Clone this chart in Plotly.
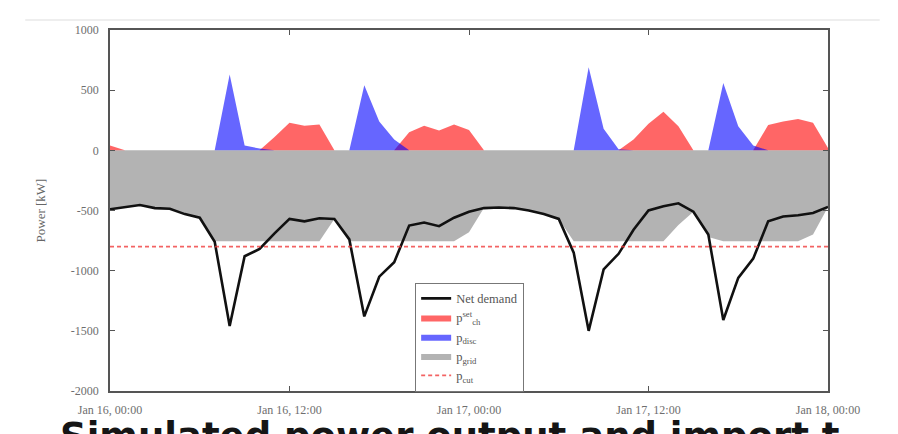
import pandas as pd
import plotly.graph_objects as go

# ---- data (hourly, Jan 16 00:00 -> Jan 18 00:00) ----
start_time = "2017-01-16 00:00"
n_hours = 49

net_demand = [-490, -470, -455, -480, -485, -530, -560, -760, -1460, -880,
              -820, -690, -570, -590, -565, -570, -740, -1380, -1050, -930,
              -625, -600, -630, -560, -510, -480, -475, -480, -500, -530,
              -570, -850, -1500, -990, -860, -660, -500, -465, -440, -510,
              -700, -1410, -1060, -900, -590, -550, -540, -520, -470]

p_grid = [-490, -470, -455, -480, -485, -530, -560, -755, -755, -755,
          -755, -755, -755, -755, -755, -570, -755, -755, -755, -755,
          -755, -755, -755, -755, -680, -480, -475, -480, -500, -530,
          -570, -755, -755, -755, -755, -755, -755, -755, -620, -510,
          -720, -755, -755, -755, -755, -755, -755, -700, -470]

p_ch = [40, 0, 0, 0, 0, 0, 0, 0, 0, 0,
        0, 110, 230, 205, 215, 0, 0, 0, 0, 0,
        150, 205, 165, 215, 170, 0, 0, 0, 0, 0,
        0, 0, 0, 0, 0, 90, 220, 320, 200, 0,
        0, 0, 0, 0, 210, 240, 260, 230, 20]

p_dis = [0, 0, 0, 0, 0, 0, 0, 0, 630, 40,
         15, 0, 0, 0, 0, 0, 0, 540, 240, 90,
         0, 0, 0, 0, 0, 0, 0, 0, 0, 0,
         0, 0, 690, 180, 10, 0, 0, 0, 0, 0,
         0, 560, 200, 40, 0, 0, 0, 0, 0]

p_limit = -800

x_tick_vals = ["2017-01-16 00:00", "2017-01-16 12:00", "2017-01-17 00:00",
               "2017-01-17 12:00", "2017-01-18 00:00"]
x_tick_text = ["Jan 16, 00:00", "Jan 16, 12:00", "Jan 17, 00:00",
               "Jan 17, 12:00", "Jan 18, 00:00"]
y_tick_vals = [1000, 500, 0, -500, -1000, -1500, -2000]
y_tick_text = ["1000", "500", "0", "-500", "-1000", "-1500", "-2000"]

names = ["Net demand", "p<sup>set</sup><sub>ch</sub>", "p<sub>disc</sub>",
         "p<sub>grid</sub>", "p<sub>cut</sub>"]

caption = "Simulated power output and import t"

# ---- figure ----
t = pd.date_range(start_time, periods=n_hours, freq="h")
SERIF = "Liberation Serif, DejaVu Serif, serif"

fig = go.Figure()
fig.add_trace(go.Scatter(x=t, y=p_grid, name=names[3], mode="lines",
                         line=dict(width=0, color="rgba(128,128,128,0.6)"),
                         fill="tozeroy", fillcolor="rgba(128,128,128,0.6)",
                         legendrank=4))
fig.add_trace(go.Scatter(x=t, y=p_ch, name=names[1], mode="lines",
                         line=dict(width=0, color="rgba(255,0,0,0.6)"),
                         fill="tozeroy", fillcolor="rgba(255,0,0,0.6)",
                         legendrank=2))
fig.add_trace(go.Scatter(x=t, y=p_dis, name=names[2], mode="lines",
                         line=dict(width=0, color="rgba(0,0,255,0.6)"),
                         fill="tozeroy", fillcolor="rgba(0,0,255,0.6)",
                         legendrank=3))
fig.add_trace(go.Scatter(x=t, y=net_demand, name=names[0], mode="lines",
                         line=dict(width=2.6, color="#111111"),
                         legendrank=1))
fig.add_trace(go.Scatter(x=[t[0], t[-1]], y=[p_limit, p_limit], name=names[4],
                         mode="lines",
                         line=dict(width=1.6, color="rgba(240,60,60,0.8)",
                                   dash="4px,3px"),
                         legendrank=5))

fig.update_layout(
    width=890, height=426,
    margin=dict(l=102, r=70, t=22, b=43),
    paper_bgcolor="white", plot_bgcolor="white",
    font=dict(family=SERIF, size=12, color="#6e6e6e"),
    showlegend=True,
    legend=dict(x=0.425, y=0.30, xanchor="left", yanchor="top",
                bgcolor="white", bordercolor="#777777", borderwidth=1,
                font=dict(family=SERIF, size=12.5, color="#555555"),
                tracegroupgap=0, itemwidth=30),
    xaxis=dict(range=[t[0], t[-1]], tickvals=x_tick_vals, ticktext=x_tick_text,
               showgrid=False, zeroline=False, showline=True, linecolor="#555555",
               linewidth=1.5, mirror="ticks", ticks="inside", ticklen=5,
               tickcolor="#555555", ticklabelstandoff=7,
               tickfont=dict(family=SERIF, size=12, color="#6e6e6e")),
    yaxis=dict(range=[-2000, 1000], tickvals=y_tick_vals, ticktext=y_tick_text,
               showgrid=False, zeroline=False, showline=True, linecolor="#555555",
               linewidth=1.5, mirror="ticks", ticks="inside", ticklen=5,
               tickcolor="#555555", ticklabelstandoff=7,
               tickfont=dict(family=SERIF, size=12, color="#6e6e6e"),
               title=dict(text="Power [kW]", standoff=22,
                          font=dict(family=SERIF, size=13, color="#666666"))),
)

fig.add_shape(type="line", xref="paper", yref="paper",
              x0=-0.118, x1=1.072, y0=1.028, y1=1.028,
              line=dict(color="#e8e8e8", width=1.5))

fig.add_annotation(text="<b>" + caption + "</b>", xref="paper", yref="paper",
                   x=-0.0724, y=-0.06, xanchor="left", yanchor="top",
                   showarrow=False,
                   font=dict(family="DejaVu Sans, sans-serif",
                             size=37, color="#151515"))

fig.write_html("out.html")
